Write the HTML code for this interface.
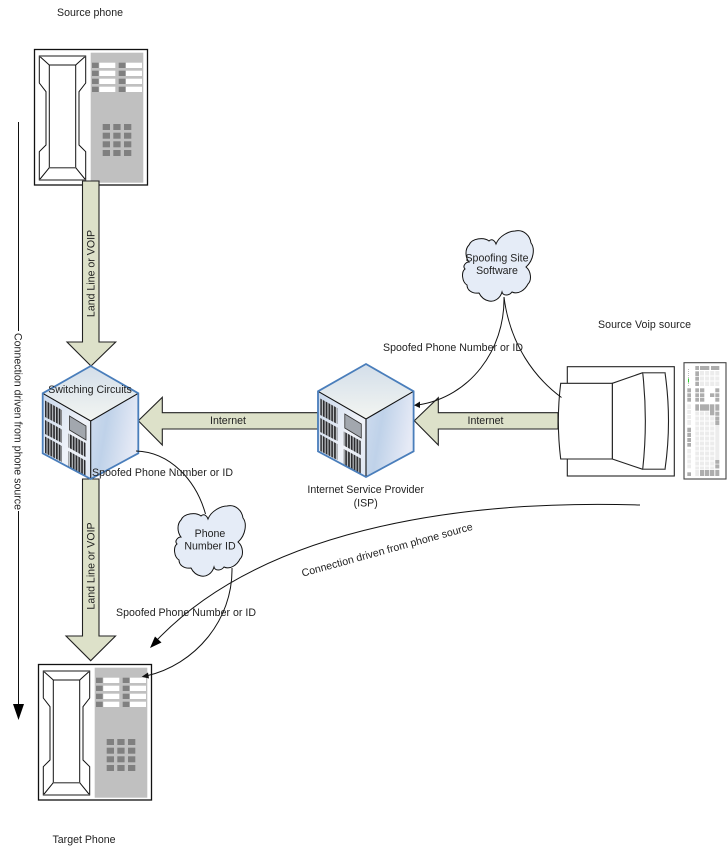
<!DOCTYPE html>
<html><head><meta charset="utf-8"><style>
html,body{margin:0;padding:0;background:#fff}
svg{display:block}
text{font-family:"Liberation Sans",Arial,sans-serif;font-size:10.6px;fill:#222}
</style></head><body>
<svg width="727" height="854" viewBox="0 0 727 854" xmlns="http://www.w3.org/2000/svg">
<defs>
<linearGradient id="top" x1="0" y1="0" x2="0" y2="1"><stop offset="0" stop-color="#d3deea"/><stop offset="1" stop-color="#f3f5f1"/></linearGradient>
<linearGradient id="right" x1="0" y1="0" x2="1" y2="0.3"><stop offset="0" stop-color="#cfdcef"/><stop offset=".4" stop-color="#bfd2e9"/><stop offset="1" stop-color="#e6eaf6"/></linearGradient>
<linearGradient id="left" x1="0" y1="0" x2="1" y2="1"><stop offset="0" stop-color="#c9d8ec"/><stop offset=".6" stop-color="#f0f3f9"/><stop offset="1" stop-color="#dfe7f3"/></linearGradient>
<pattern id="v" width="2.8" height="10" patternUnits="userSpaceOnUse"><rect width="2.8" height="10" fill="#c8ccd0"/><rect width="1.7" height="10" fill="#2b2b2e"/></pattern>
<g id="phone">
<rect x=".5" y=".5" width="113" height="135.5" fill="#fff" stroke="#111" stroke-width="1.3"/>
<rect x="56.7" y="3.7" width="52.6" height="130" fill="#c0c0c0"/>
<g fill="#808080"><rect x="58" y="13.7" width="6.7" height="5.3"/><rect x="58" y="21.7" width="6.7" height="5.3"/><rect x="58" y="29.7" width="6.7" height="5.3"/><rect x="58" y="37.7" width="6.7" height="5.3"/><rect x="84.7" y="13.7" width="6.7" height="5.3"/><rect x="84.7" y="21.7" width="6.7" height="5.3"/><rect x="84.7" y="29.7" width="6.7" height="5.3"/><rect x="84.7" y="37.7" width="6.7" height="5.3"/>
<rect x="68.7" y="75" width="7.3" height="6"/><rect x="79.3" y="75" width="7.3" height="6"/><rect x="90" y="75" width="7.3" height="6"/><rect x="68.7" y="83.7" width="7.3" height="6"/><rect x="79.3" y="83.7" width="7.3" height="6"/><rect x="90" y="83.7" width="7.3" height="6"/><rect x="68.7" y="92.3" width="7.3" height="6"/><rect x="79.3" y="92.3" width="7.3" height="6"/><rect x="90" y="92.3" width="7.3" height="6"/><rect x="68.7" y="101" width="7.3" height="6"/><rect x="79.3" y="101" width="7.3" height="6"/><rect x="90" y="101" width="7.3" height="6"/></g>
<g fill="#fff"><rect x="65.3" y="13.7" width="16" height="5.3"/><rect x="65.3" y="21.7" width="16" height="5.3"/><rect x="65.3" y="29.7" width="16" height="5.3"/><rect x="65.3" y="37.7" width="16" height="5.3"/><rect x="92" y="13.7" width="16" height="5.3"/><rect x="92" y="21.7" width="16" height="5.3"/><rect x="92" y="29.7" width="16" height="5.3"/><rect x="92" y="37.7" width="16" height="5.3"/></g>
<g fill="none" stroke="#111" stroke-width="1">
<path d="M5.3 7H51.7V34L45 42.7V96L51.7 102.7V131H5.3V102.7L12 96V42.7L5.3 34Z"/>
<rect x="15.3" y="16" width="26.4" height="102.7"/>
<path d="M5.3 7L15.3 16M51.7 7L41.7 16M5.3 131L15.3 118.7M51.7 131L41.7 118.7"/>
</g>
<path d="M5.3 7H51.7M15.3 118.7H41.7M5.3 131H51.7" stroke="#666" stroke-width="1.4" fill="none"/>
</g>
<g id="server">
<polygon points="90.7,366 138.3,393.3 90.7,421 42.7,393.3" fill="url(#top)"/>
<polygon points="42.7,393.3 90.7,421 90.7,479 42.7,453.3" fill="url(#left)"/>
<polygon points="138.3,393.3 90.7,421 90.7,479 138.3,453.3" fill="url(#right)"/>
<g fill="url(#v)">
<polygon points="45,400.5 62,410 62,426 45,417"/>
<polygon points="45,420 62,429.5 62,443 45,434"/>
<polygon points="45,436.5 62,446 62,462 45,453"/>
<polygon points="68.5,433.5 85.5,443 85.5,457 68.5,447.5"/>
<polygon points="68.5,451 85.5,460.5 85.5,476 68.5,467"/>
</g>
<polygon points="69.5,416 86,426 86,440 69.5,430" fill="#a2a7ae" stroke="#333" stroke-width=".8"/>
<path d="M42.7 393.3L90.7 421L138.3 393.3M90.7 421V479" fill="none" stroke="#111" stroke-width="1.1"/>
<polygon points="90.7,366 138.3,393.3 138.3,453.3 90.7,479 42.7,453.3 42.7,393.3" fill="none" stroke="#4a7ebb" stroke-width="1.8"/>
</g>
<path id="cloud" d="M7 15C10 8 22 7 27 11C30 8 33 11 34 14C37 6 47 1 53 1C62 -1 68 6 69 13C73 18 72 30 64 37C69 41 70 50 66 54C63 60 56 65 50 62C47 66 41 66 40 62C38 69 32 72 27 71C22 70 19 67 17 63C10 64 5 60 5 55C0 52 -1 42 3 39C0 36 4 32 7 32C3 27 3 19 7 15Z" fill="#e5ecf7" stroke="#111" stroke-width="1"/>
</defs>

<use href="#phone" x="34" y="49"/>
<use href="#phone" x="38" y="664"/>

<!-- block arrows -->
<g fill="#dde1c9" stroke="#222" stroke-width="1.1">
<polygon points="82.5,181 99,181 99,342 115.7,342 91,366 67,342 82.5,342"/>
<polygon points="82.5,479 99,479 99,636 115.5,636 90.7,660.7 66,636 82.5,636"/>
<polygon points="318,412.7 162.3,412.7 162.3,397.3 138.3,420.7 162.3,445 162.3,429 318,429"/>
<polygon points="558,412.7 438.3,412.7 438.3,397.7 414.3,420.7 438.3,445 438.3,429 558,429"/>
</g>

<use href="#server"/>
<use href="#server" transform="translate(275.3,-2)"/>

<!-- VoIP monitor -->
<rect x="567.3" y="366.7" width="107" height="109.3" fill="#fff" stroke="#222" stroke-width="1.1"/>
<g fill="#fff" stroke="#222" stroke-width="1.1">
<path d="M612.3 383.3L642.7 372.7H665Q672 421 665 469.3H642.7L612.3 459Z"/>
<path d="M642.7 372.7Q648 421 642.7 469.3" fill="none"/>
<path d="M560.7 383.3H612.3V459H560.7Q556 421 560.7 383.3Z"/>
</g>
<path d="M642.7 372.7H665M642.7 469.3H665" stroke="#666" stroke-width="1.4"/>

<!-- keyboard -->
<rect x="684" y="362.7" width="42" height="116.3" fill="#fff" stroke="#444" stroke-width="1.1"/>
<g fill="#ececec">
<rect x="700" y="371" width="19.3" height="15"/>
<rect x="687.3" y="404.3" width="3.7" height="20.7"/>
<rect x="687.3" y="449" width="3.7" height="19.3"/>
<rect x="695.3" y="411.5" width="24" height="58"/>
<rect x="695.3" y="470" width="3.7" height="6"/>
</g>
<g stroke="#fff" stroke-width="1"><path d="M699.5 371V386M704.6 371V386M709.7 371V386M714.8 371V386M699.5 411V476M704.6 411V470M709.7 411V470M714.8 411V470M700 376H720M700 381H720M695 416H715M695 421H715M695 426H715M695 431H715M695 436H715M695 441H715M695 446H715M695 451H715M695 456H715M695 461H715M695 466H715M687 409.5H691M687 414.5H691M687 419.5H691M687 454H691M687 459H691M687 464H691"/></g>
<g fill="#adadad">
<rect x="695.3" y="366" width="3.7" height="4"/><rect x="700" y="366" width="9.3" height="4"/><rect x="711" y="366" width="8.3" height="4"/>
<rect x="695.3" y="371.3" width="3.7" height="4.7"/><rect x="695.3" y="376.7" width="3.7" height="4"/><rect x="695.3" y="381.7" width="3.7" height="4.3"/>
<rect x="687.3" y="388.3" width="3.7" height="4"/><rect x="687.3" y="393.3" width="3.7" height="3.7"/><rect x="687.3" y="397.7" width="3.7" height="4"/>
<rect x="695.3" y="388.3" width="3.7" height="4"/><rect x="700" y="388.3" width="4.3" height="4"/><rect x="695.3" y="393.3" width="3.7" height="3.7"/><rect x="700" y="393.3" width="4.3" height="3.7"/><rect x="695.3" y="397.7" width="3.7" height="4"/><rect x="700" y="397.7" width="4.3" height="4"/>
<rect x="710" y="393.3" width="4.3" height="3.7"/><rect x="715.3" y="388.3" width="4" height="4"/><rect x="715.3" y="393.3" width="4" height="3.7"/><rect x="715.3" y="397.7" width="4" height="4"/>
<rect x="695.3" y="404.3" width="3.7" height="6.4"/><rect x="700" y="404.3" width="9.3" height="6.4"/><rect x="710" y="404.3" width="4.3" height="11"/>
<rect x="715.3" y="404.3" width="4" height="6.4"/><rect x="715.3" y="411.7" width="4" height="4"/><rect x="715.3" y="416.7" width="4" height="4"/><rect x="715.3" y="421" width="4" height="4"/>
<rect x="687.3" y="427.7" width="3.7" height="4.5"/><rect x="687.3" y="433" width="3.7" height="4"/><rect x="687.3" y="438" width="3.7" height="4"/><rect x="687.3" y="443" width="3.7" height="3.7"/>
<rect x="687.3" y="472.3" width="3.7" height="3.7"/>
<rect x="715.3" y="460" width="4" height="3.7"/><rect x="715.3" y="464.5" width="4" height="3.8"/>
<rect x="700" y="470" width="4.3" height="6"/><rect x="705" y="470" width="4.3" height="6"/><rect x="710" y="470" width="4.3" height="6"/><rect x="715.3" y="470" width="4" height="6"/>
</g>
<path d="M688.5 369V378" stroke="#bbb" stroke-width="1" stroke-dasharray="1 1"/>
<path d="M688.5 379V386" stroke="#bbb" stroke-width="1" stroke-dasharray="1 1"/>
<path d="M688.5 378.5V382.5" stroke="#3c3" stroke-width="1"/>

<use href="#cloud" x="462" y="230"/>
<use href="#cloud" x="174" y="505"/>

<!-- thin curves -->
<g fill="none" stroke="#111" stroke-width="1">
<path d="M504 297C505 350 470 397 418 405"/>
<path d="M504 297C510 345 535 378 561.5 397.5"/>
<path d="M136 451C170 452 196 480 205.5 514"/>
<path d="M232 568C233 620 195 665 146 676"/>
<path d="M640 505C480 500 270 522 157 640"/>
<path d="M18.5 122V331M18.5 511V706"/>
</g>
<polygon points="414,405.3 420,401.5 420,408" fill="#111"/>
<polygon points="141.7,676.7 148,672.5 149,678.5" fill="#111"/>
<polygon points="150,648 155,636.5 161.5,642.5" fill="#000"/>
<polygon points="18.5,720 13,704 24,704" fill="#000"/>

<!-- labels -->
<text x="90" y="16" text-anchor="middle">Source phone</text>
<text x="84" y="843" text-anchor="middle">Target Phone</text>
<text text-anchor="middle" transform="translate(94.5,273.5) rotate(-90)">Land Line or VOIP</text>
<text text-anchor="middle" transform="translate(94.5,566) rotate(-90)">Land Line or VOIP</text>
<text transform="translate(14.7,333) rotate(90)" textLength="177">Connection driven from phone source</text>
<text x="90" y="393" text-anchor="middle">Switching Circuits</text>
<text x="228" y="424" text-anchor="middle">Internet</text>
<text x="485.5" y="424" text-anchor="middle">Internet</text>
<text x="497" y="261.5" text-anchor="middle">Spoofing Site</text>
<text x="497" y="274" text-anchor="middle">Software</text>
<text x="383" y="351" textLength="140">Spoofed Phone Number or ID</text>
<text x="598" y="328" textLength="93">Source Voip source</text>
<text x="365.7" y="493" text-anchor="middle">Internet Service Provider</text>
<text x="365.7" y="506.5" text-anchor="middle">(ISP)</text>
<text x="92" y="476" textLength="141">Spoofed Phone Number or ID</text>
<text x="210" y="537" text-anchor="middle">Phone</text>
<text x="210" y="549.5" text-anchor="middle">Number ID</text>
<text x="116" y="616" textLength="140">Spoofed Phone Number or ID</text>
<text transform="translate(302.7,576.7) rotate(-15.4)" textLength="177">Connection driven from phone source</text>
</svg>
</body></html>
